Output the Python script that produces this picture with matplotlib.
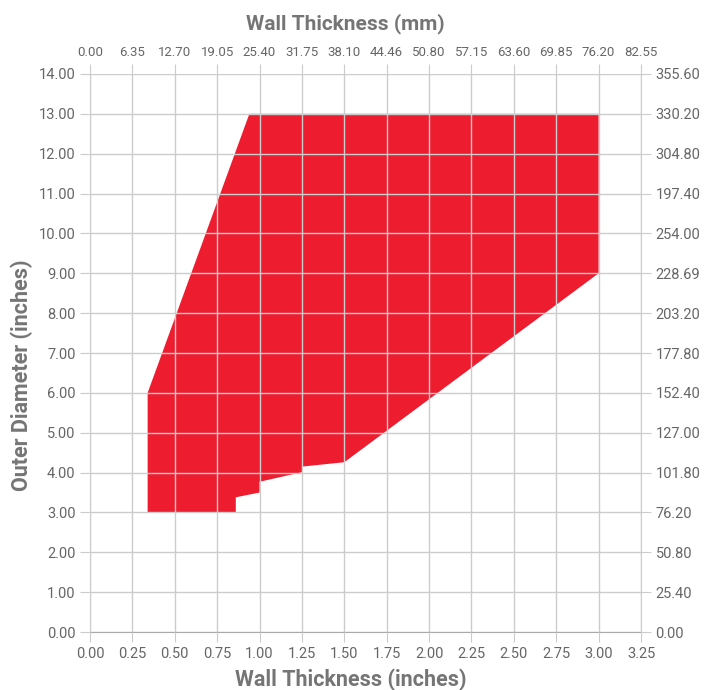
import matplotlib
matplotlib.use('Agg')
import matplotlib.pyplot as plt

# outline of the available size range (wall thickness in inches, OD in inches)
wall_in = [0.34, 0.86, 0.86, 1.00, 1.00, 1.25, 1.25, 1.50, 3.00, 3.00, 0.94, 0.34]
od_in = [3.00, 3.00, 3.38, 3.50, 3.77, 4.01, 4.15, 4.26, 9.00, 13.00, 13.00, 6.00]

x_ticks = [0.00, 0.25, 0.50, 0.75, 1.00, 1.25, 1.50, 1.75, 2.00, 2.25, 2.50, 2.75, 3.00, 3.25]
x_mm_labels = ["0.00", "6.35", "12.70", "19.05", "25.40", "31.75", "38.10", "44.46",
               "50.80", "57.15", "63.60", "69.85", "76.20", "82.55"]
y_ticks = list(range(0, 15))
y_mm_labels = ["0.00", "25.40", "50.80", "76.20", "101.80", "127.00", "152.40", "177.80",
               "203.20", "228.69", "254.00", "197.40", "304.80", "330.20", "355.60"]

plt.rcParams['font.family'] = ['Roboto', 'DejaVu Sans']
grey = '#666666'
label_grey = '#757575'
grid_grey = '#cccccc'

fig = plt.figure(figsize=(7.28, 6.9), dpi=100)
ax = fig.add_axes([0.1236, 0.084, 0.7569, 0.8088])

ax.fill(wall_in, od_in, color='#ed1c2e', linewidth=0, zorder=1)

ax.set_xlim(0, 3.25)
ax.set_ylim(0, 14)
ax.set_xticks(x_ticks)
ax.set_xticklabels(["%.2f" % v for v in x_ticks])
ax.set_yticks(y_ticks)
ax.set_yticklabels(["%.2f" % v for v in y_ticks])
ax.grid(True, color=grid_grey, linewidth=1.0, zorder=2)
ax.set_axisbelow(False)

for s in ax.spines.values():
    s.set_visible(False)
ax.spines['bottom'].set_visible(True)
ax.spines['bottom'].set_color('#aaaaaa')
ax.spines['left'].set_visible(True)
ax.spines['left'].set_color(grid_grey)

ax.tick_params(axis='both', colors=grid_grey, labelcolor=grey, labelsize=10.5, length=7)
ax.set_xlabel("Wall Thickness (inches)", fontsize=15.5, fontweight='bold', color=label_grey, labelpad=6)
ax.set_ylabel("Outer Diameter (inches)", fontsize=15.5, fontweight='bold', color=label_grey, labelpad=4)
ax.xaxis.label.set_x(0.474)
ax.yaxis.label.set_y(0.46)

# top axis in mm
top = ax.twiny()
top.set_xlim(ax.get_xlim())
top.set_xticks(x_ticks)
top.set_xticklabels(x_mm_labels, fontsize=9.5)
top.tick_params(axis='x', colors=grid_grey, labelcolor=grey, length=7)
for s in top.spines.values():
    s.set_visible(False)
top.set_xlabel("Wall Thickness (mm)", fontsize=15, fontweight='bold', color=label_grey, labelpad=12)
top.xaxis.label.set_x(0.463)

# right axis in mm
right = ax.twinx()
right.set_ylim(ax.get_ylim())
right.set_yticks(y_ticks)
right.set_yticklabels(y_mm_labels)
right.tick_params(axis='y', colors=grid_grey, labelcolor=grey, labelsize=10.5, length=7)
for s in right.spines.values():
    s.set_visible(False)
right.spines['right'].set_visible(True)
right.spines['right'].set_color(grid_grey)
right.set_ylabel("Outer Diameter (mm)", fontsize=15.5, fontweight='bold', color=label_grey, labelpad=30)

fig.savefig('out.png', dpi=100)
